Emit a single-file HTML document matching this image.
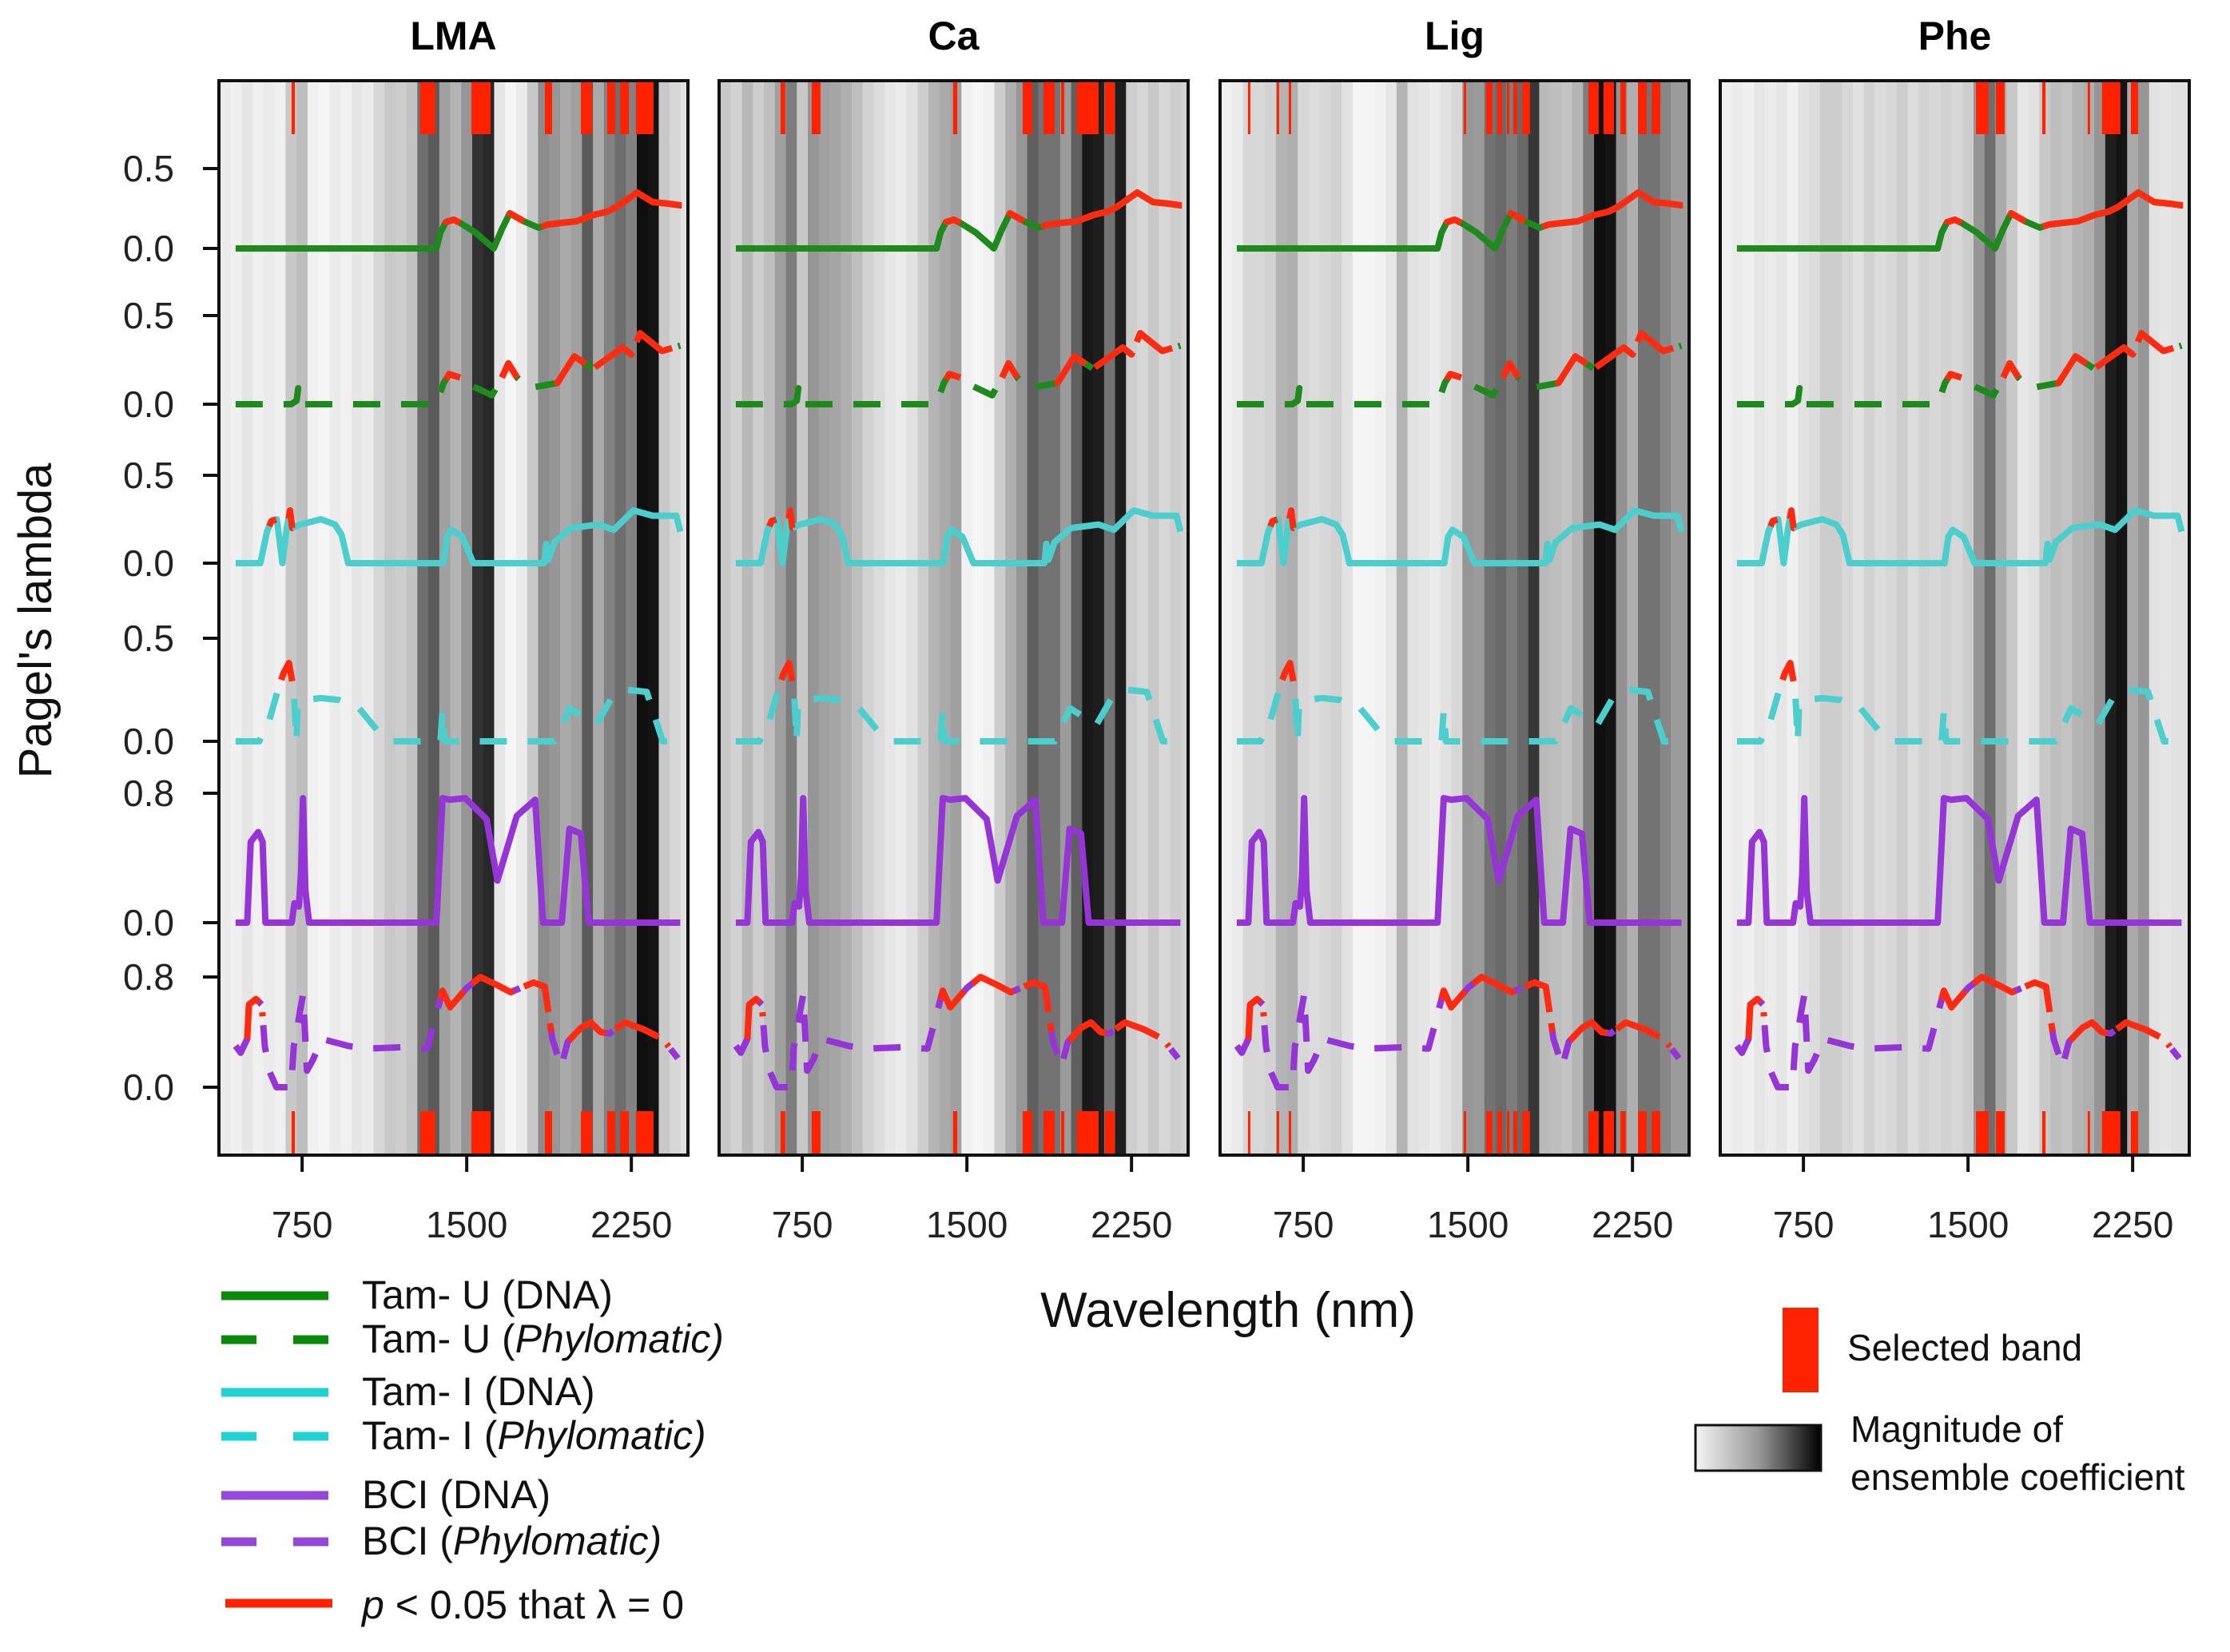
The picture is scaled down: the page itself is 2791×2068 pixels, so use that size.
<!DOCTYPE html>
<html><head><meta charset="utf-8">
<style>
html,body{margin:0;padding:0;background:#fff;}
svg{display:block;font-family:"Liberation Sans",sans-serif;}
</style></head>
<body>
<svg id="chart" width="2791" height="2068" viewBox="0 0 2791 2068" xmlns="http://www.w3.org/2000/svg">
</svg>
<script>
// ---------- data ----------
const panelTitles = ["LMA","Ca","Lig","Phe"];
const xTicks = [750,1500,2250];
const binStart = 375, binStep = 50;
const grayLMA = [235,240,230,240,235,240,200,190,240,245,235,240,230,235,215,200,205,195,110,90,160,180,150,50,40,230,245,235,200,140,150,170,160,90,170,130,110,130,15,20,200,215,225];
const grayCa  = [200,210,185,205,190,160,125,200,150,160,165,175,190,210,220,230,235,225,205,180,170,160,240,245,240,205,175,150,95,115,115,155,95,25,30,115,30,205,215,200,215,205,210];
const grayLig = [240,235,215,215,210,180,175,215,220,215,210,225,245,245,240,230,180,225,230,235,225,215,150,155,115,105,125,105,55,185,190,195,180,125,15,20,145,175,115,115,135,155,155];
const grayPhe = [240,235,240,230,235,230,240,225,220,205,205,215,225,210,220,215,205,220,210,215,210,215,205,150,110,170,200,230,225,200,190,195,180,175,150,30,20,170,150,225,230,225,225];
const bandsLMA = [[702,717],[1288,1357],[1521,1609],[1856,1889],[2020,2071],[2140,2177],[2199,2239],[2271,2351]];
const bandsCa  = [[651,673],[793,833],[1437,1456],[1754,1798],[1849,1900],[1929,1944],[2000,2100],[2129,2173]];
const bandsLig = [[498,509],[629,640],[684,695],[1481,1492],[1583,1612],[1634,1656],[1678,1689],[1707,1725],[1747,1783],[2049,2096],[2118,2166],[2195,2220],[2275,2315],[2337,2377]];
const bandsPhe = [[1536,1594],[1627,1667],[1838,1853],[2045,2056],[2110,2194],[2242,2275]];

const tamUdnaWl  = [447,1362,1380,1405,1440,1470,1540,1623,1660,1696,1760,1827,1870,1933,2000,2078,2140,2184,2276,2348,2420,2473];
const tamUdnaVal = [0,0,0.1,0.165,0.18,0.16,0.1,0,0.12,0.22,0.17,0.13,0.15,0.16,0.17,0.21,0.23,0.26,0.35,0.29,0.28,0.27];
const tamUdnaSig = [[1400,1470],[1690,1760],[1840,2480]];
const tamUphyWl  = [447,700,725,732,740,1362,1395,1420,1470,1530,1615,1660,1690,1730,1780,1913,1990,2075,2210,2250,2290,2390,2473];
const tamUphyVal = [0,0,0.02,0.09,0,0,0.12,0.17,0.15,0.1,0.05,0.15,0.23,0.15,0.09,0.12,0.27,0.2,0.32,0.28,0.4,0.3,0.33];
const tamUphySig = [[1405,1470],[1660,1730],[1900,2480]];
const tamIdnaWl  = [447,560,590,610,635,660,680,695,705,740,836,900,930,960,1393,1410,1430,1480,1530,1853,1862,1872,1900,1975,2100,2170,2260,2348,2455,2473];
const tamIdnaVal = [0,0,0.18,0.24,0.25,0,0.2,0.3,0.2,0.22,0.25,0.22,0.16,0,0,0.15,0.19,0.15,0,0,0.11,0.02,0.12,0.2,0.22,0.19,0.3,0.27,0.27,0.18];
const tamIdnaSig = [[600,632],[688,706]];
const tamIphyWl  = [447,555,600,640,665,690,712,724,730,760,836,920,1010,1095,1165,1380,1390,1400,1900,1970,2090,2160,2230,2320,2393,2473];
const tamIphyVal = [0,0,0.1,0.25,0.33,0.38,0.25,0,0.17,0.2,0.21,0.2,0.16,0.05,0,0,0.15,0,0,0.16,0.08,0.21,0.25,0.24,0,0];
const tamIphySig = [[655,705]];
const bciDnaWl  = [447,500,516,550,570,583,703,715,735,745,754,765,782,1362,1390,1424,1493,1590,1640,1728,1812,1848,1933,1968,2020,2055,2473];
const bciDnaVal = [0,0,0.5,0.56,0.5,0,0,0.12,0.1,0.3,0.77,0.2,0,0,0.77,0.76,0.77,0.64,0.26,0.66,0.76,0,0,0.58,0.55,0,0];
const bciPhyWl  = [447,470,500,508,540,566,580,600,633,700,712,720,740,754,772,800,840,960,1045,1200,1320,1362,1390,1424,1500,1562,1640,1700,1760,1804,1855,1890,1930,1960,2020,2065,2110,2150,2220,2306,2393,2462];
const bciPhyVal = [0.3,0.25,0.35,0.6,0.64,0.6,0.3,0.12,0,0,0.3,0.35,0.55,0.67,0.12,0.2,0.35,0.3,0.28,0.29,0.28,0.53,0.7,0.58,0.72,0.8,0.74,0.69,0.73,0.76,0.73,0.35,0.15,0.33,0.43,0.47,0.4,0.39,0.47,0.42,0.35,0.21];
const bciPhySig = [[500,570],[1380,1885],[1965,2420]];

// ---------- layout ----------
const svg = document.getElementById('chart');
const NS = 'http://www.w3.org/2000/svg';
const panelLefts = [274,900,1527,2153];
const panelW = 587, panelTop = 101, panelBot = 1446;
const wlMin = 371, pxPerNm = 0.2747;
function mk(tag, attrs){ const e=document.createElementNS(NS,tag); for(const k in attrs) e.setAttribute(k,attrs[k]); return e; }
function xScale(p, wl){ return panelLefts[p] + (wl - wlMin)*pxPerNm; }
const rows = [
 {wl:tamUdnaWl,val:tamUdnaVal,sig:tamUdnaSig,y0:311,s:200,col:'#1e8a1e',dash:false,ticks:[0,0.5],name:'tam-u-dna'},
 {wl:tamUphyWl,val:tamUphyVal,sig:tamUphySig,y0:506,s:222,col:'#1e8a1e',dash:true,ticks:[0,0.5],name:'tam-u-phylomatic'},
 {wl:tamIdnaWl,val:tamIdnaVal,sig:tamIdnaSig,y0:705,s:220,col:'#4ccfcc',dash:false,ticks:[0,0.5],name:'tam-i-dna'},
 {wl:tamIphyWl,val:tamIphyVal,sig:tamIphySig,y0:928,s:258,col:'#4ccfcc',dash:true,ticks:[0,0.5],name:'tam-i-phylomatic'},
 {wl:bciDnaWl,val:bciDnaVal,sig:[],y0:1155,s:202.5,col:'#9535d6',dash:false,ticks:[0,0.8],name:'bci-dna'},
 {wl:bciPhyWl,val:bciPhyVal,sig:bciPhySig,y0:1361,s:172.5,col:'#9535d6',dash:true,ticks:[0,0.8],name:'bci-phylomatic'}
];
const grays=[grayLMA,grayCa,grayLig,grayPhe];
const bands=[bandsLMA,bandsCa,bandsLig,bandsPhe];

function interp(wl,val,w){ for(let i=0;i<wl.length-1;i++){ if(w>=wl[i]&&w<=wl[i+1]){ const t=(w-wl[i])/(wl[i+1]-wl[i]||1); return val[i]+t*(val[i+1]-val[i]); } } return val[val.length-1]; }
function seg(wl,val,a,b){ const pts=[[a,interp(wl,val,a)]]; for(let i=0;i<wl.length;i++){ if(wl[i]>a&&wl[i]<b) pts.push([wl[i],val[i]]); } pts.push([b,interp(wl,val,b)]); return pts; }

for(let p=0;p<4;p++){
  const g=mk('g',{});
  
  
  svg.appendChild(g);
  const L=panelLefts[p];
  grays[p].forEach((v,i)=>{
    const w0=binStart+i*binStep;
    let x0=Math.max(L,xScale(p,w0)), x1=Math.min(L+panelW,xScale(p,w0+binStep));
    if(i===0) x0=L; if(i===grays[p].length-1) x1=L+panelW;
    const r=mk('rect',{x:x0,y:panelTop,width:x1-x0+0.6,height:panelBot-panelTop,fill:`rgb(${v},${v},${v})`});
    
    
    g.appendChild(r);
  });
  bands[p].forEach(b=>{
    const x0=xScale(p,b[0]), w=Math.max(3,(b[1]-b[0])*pxPerNm);
    const t=mk('rect',{x:x0,y:panelTop,width:w,height:67,fill:'#ff2200'});
    
    
    g.appendChild(t);
    const bt=mk('rect',{x:x0,y:1391,width:w,height:panelBot-1391,fill:'#ff2200'});
    
    
    g.appendChild(bt);
  });
  rows.forEach(r=>{
    const pts=r.wl.map((w,i)=>`${xScale(p,w).toFixed(1)},${(r.y0-r.val[i]*r.s).toFixed(1)}`).join(' ');
    const pl=mk('polyline',{points:pts,fill:'none',stroke:r.col,'stroke-width':8,'stroke-linejoin':'round','stroke-linecap':'butt'});
    if(r.dash) pl.setAttribute('stroke-dasharray','34 26');
    
    
    g.appendChild(pl);
    r.sig.forEach(s=>{
      const sp=seg(r.wl,r.val,s[0],s[1]).map(q=>`${xScale(p,q[0]).toFixed(1)},${(r.y0-q[1]*r.s).toFixed(1)}`).join(' ');
      const rl=mk('polyline',{points:sp,fill:'none',stroke:'#ff2a10','stroke-width':8,'stroke-linejoin':'round'});
      if(r.dash) rl.setAttribute('stroke-dasharray','60 14');
      
      
      g.appendChild(rl);
    });
  });
  const fr=mk('rect',{x:L,y:panelTop,width:panelW,height:panelBot-panelTop,fill:'none',stroke:'#111','stroke-width':4});
  
  
  g.appendChild(fr);
  const tt=mk('text',{x:L+panelW/2,y:62,'text-anchor':'middle','font-size':50,'font-weight':'bold',fill:'#000'}); tt.textContent=panelTitles[p];
  
  
  g.appendChild(tt);
  xTicks.forEach(t=>{
    const x=xScale(p,t);
    const tl=mk('line',{x1:x,x2:x,y1:panelBot,y2:1467,stroke:'#111','stroke-width':4});
    
    
    g.appendChild(tl);
    const tx=mk('text',{x:x,y:1549,'text-anchor':'middle','font-size':46,fill:'#222'}); tx.textContent=t;
    
    
    g.appendChild(tx);
  });
}
rows.forEach(r=>{
  r.ticks.forEach(v=>{
    const y=r.y0-v*r.s;
    const tl=mk('line',{x1:254,x2:274,y1:y,y2:y,stroke:'#111','stroke-width':4});
    
    
    svg.appendChild(tl);
    const tx=mk('text',{x:218,y:y+16,'text-anchor':'end','font-size':46,fill:'#222'}); tx.textContent=v.toFixed(1);
    
    
    svg.appendChild(tx);
  });
});
</script>
<svg style="position:absolute;left:0;top:0" width="2791" height="2068" viewBox="0 0 2791 2068" xmlns="http://www.w3.org/2000/svg" font-family="Liberation Sans, sans-serif">
<defs><linearGradient id="magGrad2" x1="0" x2="1" y1="0" y2="0"><stop offset="0" stop-color="#f4f4f4"/><stop offset="0.5" stop-color="#999"/><stop offset="1" stop-color="#000"/></linearGradient></defs>
<text x="0" y="0" transform="translate(64,777) rotate(-90)" text-anchor="middle" font-size="58" fill="#111">Pagel's lambda</text>
<text x="1537" y="1661" text-anchor="middle" font-size="62" fill="#111">Wavelength (nm)</text>
<g font-size="50" fill="#111">
<line x1="277" x2="411" y1="1622" y2="1622" stroke="#0a8a0a" stroke-width="11"/>
<text x="453" y="1638">Tam- U (DNA)</text>
<line x1="277" x2="411" y1="1677" y2="1677" stroke="#0a8a0a" stroke-width="11" stroke-dasharray="44 46"/>
<text x="453" y="1693">Tam- U (<tspan font-style="italic">Phylomatic)</tspan></text>
<line x1="277" x2="411" y1="1743" y2="1743" stroke="#1fd3d3" stroke-width="11"/>
<text x="453" y="1759">Tam- I (DNA)</text>
<line x1="277" x2="411" y1="1798" y2="1798" stroke="#1fd3d3" stroke-width="11" stroke-dasharray="44 46"/>
<text x="453" y="1814">Tam- I (<tspan font-style="italic">Phylomatic)</tspan></text>
<line x1="277" x2="411" y1="1872" y2="1872" stroke="#9547d8" stroke-width="11"/>
<text x="453" y="1888">BCI (DNA)</text>
<line x1="277" x2="411" y1="1930" y2="1930" stroke="#9547d8" stroke-width="11" stroke-dasharray="44 46"/>
<text x="453" y="1946">BCI (<tspan font-style="italic">Phylomatic)</tspan></text>
<line x1="282" x2="416" y1="2007" y2="2007" stroke="#ff2200" stroke-width="11"/>
<text x="453" y="2026"><tspan font-style="italic">p</tspan> &lt; 0.05 that λ = 0</text>
</g>
<g font-size="46" fill="#111">
<rect x="2231" y="1637" width="45" height="106" fill="#ff2200"/>
<text x="2312" y="1703">Selected band</text>
<rect x="2122" y="1784" width="157" height="57" fill="url(#magGrad2)" stroke="#111" stroke-width="3"/>
<text x="2316" y="1805">Magnitude of</text>
<text x="2316" y="1865">ensemble coefficient</text>
</g>
</svg>
</body></html>
